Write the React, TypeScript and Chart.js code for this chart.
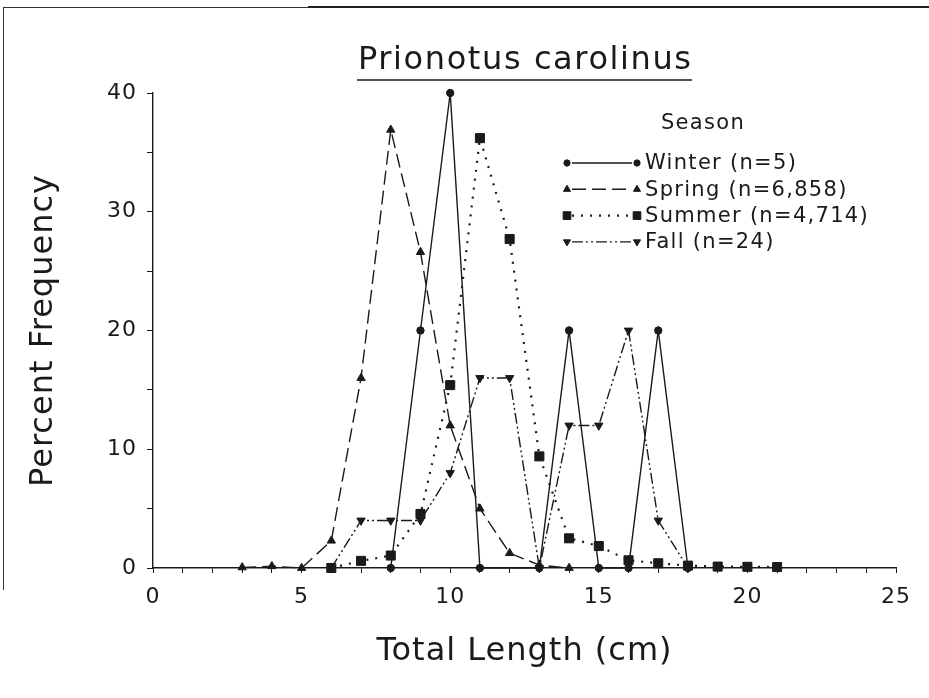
import React, { useEffect, useRef } from 'react';
import { Chart, registerables } from 'chart.js';
import { drawPoint } from 'chart.js/helpers';

Chart.register(...registerables);

// ---------------- data ----------------
const TITLE = 'Prionotus carolinus';
const X_TITLE = 'Total Length (cm)';
const Y_TITLE = 'Percent Frequency';
const LEGEND_TITLE = 'Season';

const seriesLabels = ['Winter (n=5)', 'Spring (n=6,858)', 'Summer (n=4,714)', 'Fall (n=24)'];

const winterLengths = [8, 9, 10, 11, 13, 14, 15, 16, 17, 18];
const winterPct = [0, 20, 40, 0, 0, 20, 0, 0, 20, 0];

const springLengths = [3, 4, 5, 6, 7, 8, 9, 10, 11, 12, 13, 14];
const springPct = [0.05, 0.15, 0, 2.3, 16, 36.9, 26.6, 12, 5, 1.25, 0.25, 0];

const summerLengths = [6, 7, 8, 9, 10, 11, 12, 13, 14, 15, 16, 17, 18, 19, 20, 21];
const summerPct = [0, 0.6, 1.05, 4.55, 15.4, 36.2, 27.7, 9.4, 2.5, 1.85, 0.65, 0.4, 0.2, 0.12, 0.1, 0.08];

const fallLengths = [6, 7, 8, 9, 10, 11, 12, 13, 14, 15, 16, 17, 18];
const fallPct = [0, 4, 4, 4, 8, 16, 16, 0, 12, 12, 20, 4, 0];

const X_MIN = 0;
const X_MAX = 25;
const X_STEP = 1;
const X_LABEL_EVERY = 5;
const Y_MIN = 0;
const Y_MAX = 40;
const Y_STEP = 5;
const Y_LABEL_EVERY = 10;

// ---------------- style ----------------
const INK = '#1a1a1a';
const FONT = '"DejaVu Sans", "Liberation Sans", sans-serif';
const BIG_SPACING = 1.6;

const toPoints = (xs: number[], ys: number[]) => xs.map((x, i) => ({ x, y: ys[i] }));

const spacingPlugin = {
  id: 'spacing',
  beforeDraw(chart: any) {
    chart.ctx.letterSpacing = '1px';
  },
  beforeDatasetsDraw(chart: any) {
    chart.ctx.letterSpacing = '0px';
  },
};

const underlinedTitle = {
  id: 'underlinedTitle',
  afterDraw(chart: any) {
    const { ctx, chartArea } = chart;
    ctx.save();
    ctx.font = `32px ${FONT}`;
    ctx.letterSpacing = `${BIG_SPACING}px`;
    ctx.fillStyle = INK;
    ctx.textAlign = 'left';
    ctx.textBaseline = 'alphabetic';
    const cx = (chartArea.left + chartArea.right) / 2;
    const w = ctx.measureText(TITLE).width - BIG_SPACING;
    ctx.fillText(TITLE, cx - w / 2, chartArea.top - 24);
    ctx.strokeStyle = INK;
    ctx.lineWidth = 1.5;
    ctx.beginPath();
    ctx.moveTo(cx - w / 2 - 1, chartArea.top - 13);
    ctx.lineTo(cx + w / 2 + 1, chartArea.top - 13);
    ctx.stroke();
    ctx.restore();
  },
};

const seasonLegend = {
  id: 'seasonLegend',
  afterDraw(chart: any) {
    const { ctx, chartArea } = chart;
    const x0 = chartArea.left + 414;
    const sampleW = 70;
    const textX = x0 + sampleW + 8;
    ctx.save();
    ctx.font = `21px ${FONT}`;
    ctx.letterSpacing = '1.3px';
    ctx.fillStyle = INK;
    ctx.textBaseline = 'middle';
    ctx.textAlign = 'center';
    ctx.fillText(LEGEND_TITLE, textX + 58, chartArea.top + 31);
    chart.data.datasets.forEach((ds: any, i: number) => {
      const y = chartArea.top + 70 + i * 26.3;
      ctx.save();
      ctx.strokeStyle = INK;
      ctx.lineWidth = ds.borderWidth;
      ctx.setLineDash(ds.borderDash || []);
      ctx.beginPath();
      ctx.moveTo(x0 + 5, y);
      ctx.lineTo(x0 + sampleW - 5, y);
      ctx.stroke();
      ctx.setLineDash([]);
      ctx.fillStyle = INK;
      ctx.lineWidth = 1;
      const opts = { pointStyle: ds.pointStyle, rotation: ds.pointRotation || 0, radius: ds.pointRadius * 0.85, borderWidth: 1 };
      drawPoint(ctx, opts, x0, y);
      drawPoint(ctx, opts, x0 + sampleW, y);
      ctx.restore();
      ctx.fillStyle = INK;
      ctx.textAlign = 'left';
      ctx.fillText(ds.label, textX, y + 1);
    });
    ctx.restore();
  },
};

export default function App() {
  const ref = useRef<HTMLCanvasElement | null>(null);

  useEffect(() => {
    if (!ref.current) return;
    const common = {
      borderColor: INK,
      backgroundColor: INK,
      pointBackgroundColor: INK,
      pointBorderColor: INK,
      pointBorderWidth: 1,
      borderWidth: 1.4,
      tension: 0,
      fill: false,
      clip: false as any,
    };
    const chart = new Chart(ref.current, {
      type: 'line',
      data: {
        datasets: [
          { ...common, label: seriesLabels[0], data: toPoints(winterLengths, winterPct), pointStyle: 'circle', pointRadius: 3.7, borderDash: [] },
          { ...common, label: seriesLabels[1], data: toPoints(springLengths, springPct), pointStyle: 'triangle', pointRadius: 4.8, borderDash: [14, 6] },
          { ...common, label: seriesLabels[2], data: toPoints(summerLengths, summerPct), pointStyle: 'rect', pointRadius: 6.4, borderWidth: 2.2, borderDash: [2, 7] },
          { ...common, label: seriesLabels[3], data: toPoints(fallLengths, fallPct), pointStyle: 'triangle', pointRotation: 180, pointRadius: 4.8, borderDash: [11, 3, 2, 3, 2, 3] },
        ] as any,
      },
      options: {
        animation: false,
        responsive: false,
        devicePixelRatio: 1,
        layout: { padding: { left: 0, top: 93, right: 33, bottom: 0 } },
        plugins: {
          legend: { display: false },
          title: { display: false },
          tooltip: { enabled: false },
        },
        scales: {
          x: {
            type: 'linear',
            min: X_MIN,
            max: X_MAX,
            afterFit: (s: any) => { s.height = 130; },
            ticks: {
              stepSize: X_STEP,
              maxTicksLimit: 100,
              autoSkip: false,
              maxRotation: 0,
              padding: 11,
              color: INK,
              font: { family: FONT, size: 22 },
              callback: (v: any) => (Number(v) % X_LABEL_EVERY === 0 ? String(v) : ''),
            },
            grid: { drawOnChartArea: false, drawTicks: true, tickLength: 5, color: INK, lineWidth: 1 },
            border: { display: true, color: INK, width: 1.4 },
            title: { display: true, text: X_TITLE, color: INK, font: { family: FONT, size: 32 }, padding: { top: 0, bottom: 27 } },
          },
          y: {
            type: 'linear',
            min: Y_MIN,
            max: Y_MAX,
            afterFit: (s: any) => { s.width = 153; },
            ticks: {
              stepSize: Y_STEP,
              maxTicksLimit: 100,
              autoSkip: false,
              padding: 10,
              color: INK,
              font: { family: FONT, size: 22 },
              callback: (v: any) => (Number(v) % Y_LABEL_EVERY === 0 ? String(v) : ''),
            },
            grid: { drawOnChartArea: false, drawTicks: true, tickLength: 6, color: INK, lineWidth: 1 },
            border: { display: true, color: INK, width: 1.4 },
            title: { display: true, text: Y_TITLE, color: INK, font: { family: FONT, size: 32 }, padding: { top: 24, bottom: 0 } },
          },
        },
      } as any,
      plugins: [spacingPlugin, underlinedTitle, seasonLegend],
    });
    return () => chart.destroy();
  }, []);

  return (
    <div style={{ position: 'absolute', left: 0, top: 0, width: 929, height: 698, background: '#fff', overflow: 'hidden' }}>
      <div style={{ position: 'absolute', left: 3, top: 7, width: 305, height: 0, borderTop: '1px solid #333' }} />
      <div style={{ position: 'absolute', left: 308, top: 6, width: 621, height: 0, borderTop: '2px solid #222' }} />
      <div style={{ position: 'absolute', left: 3, top: 7, width: 0, height: 583, borderLeft: '1.5px solid #333' }} />
      <canvas ref={ref} width={929} height={698} style={{ position: 'absolute', left: 0, top: 0, width: 929, height: 698 }} />
    </div>
  );
}
